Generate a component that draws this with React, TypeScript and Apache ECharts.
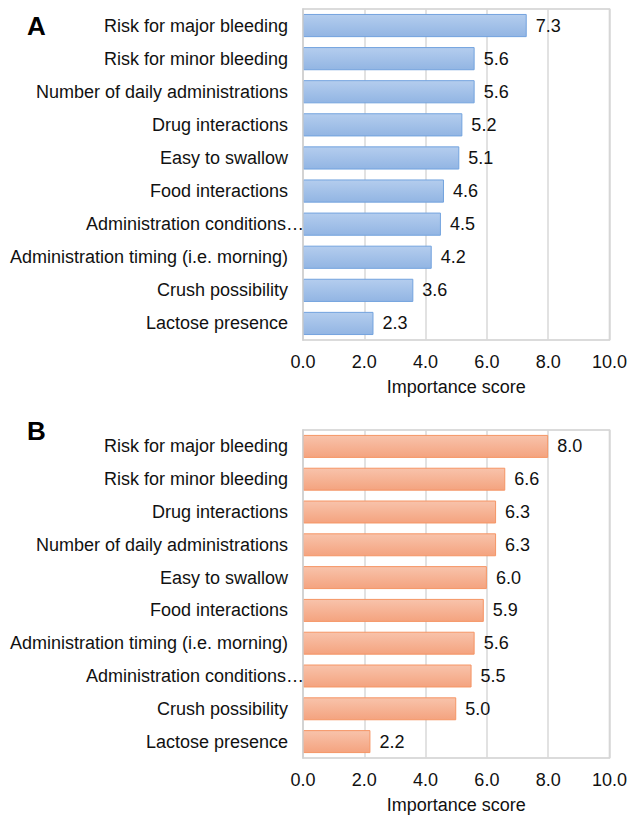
import React, { useEffect, useRef } from "react";
import * as echarts from "echarts";

const categoriesA = [
  "Risk for major bleeding",
  "Risk for minor bleeding",
  "Number of daily administrations",
  "Drug interactions",
  "Easy to swallow",
  "Food interactions",
  "Administration conditions…",
  "Administration timing (i.e. morning)",
  "Crush possibility",
  "Lactose presence",
];
const valuesA = [7.3, 5.6, 5.6, 5.2, 5.1, 4.6, 4.5, 4.2, 3.6, 2.3];

const categoriesB = [
  "Risk for major bleeding",
  "Risk for minor bleeding",
  "Drug interactions",
  "Number of daily administrations",
  "Easy to swallow",
  "Food interactions",
  "Administration timing (i.e. morning)",
  "Administration conditions…",
  "Crush possibility",
  "Lactose presence",
];
const valuesB = [8.0, 6.6, 6.3, 6.3, 6.0, 5.9, 5.6, 5.5, 5.0, 2.2];

const axisName = "Importance score";
const FONT = "Liberation Sans, Arial, sans-serif";
const FS = 18;

export default function App() {
  const ref = useRef<HTMLDivElement>(null);
  useEffect(() => {
    if (!ref.current) return;
    const chart = echarts.init(ref.current, null, { renderer: "svg" });
    const xAxisBase = (gridIndex: number) => ({
      type: "value",
      gridIndex,
      min: 0,
      max: 10,
      interval: 2,
      name: axisName,
      nameLocation: "middle",
      nameGap: 38,
      nameTextStyle: { fontSize: FS, color: "#111", fontFamily: FONT },
      axisLine: { show: false },
      axisTick: { show: false },
      axisLabel: {
        fontSize: FS,
        color: "#111",
        fontFamily: FONT,
        margin: 13,
        formatter: (v: number) => v.toFixed(1),
      },
      splitLine: { show: true, lineStyle: { color: "#d9d9d9", width: 1.5 } },
    });
    const yAxisBase = (gridIndex: number, data: string[]) => ({
      type: "category",
      gridIndex,
      data: data.map((c) =>
        c.endsWith("…")
          ? { value: c, textStyle: { padding: [0, -16, 0, 0] } }
          : c
      ),
      inverse: true,
      z: 5,
      axisLine: { show: true, lineStyle: { color: "#d0d0d0", width: 1.5 } },
      axisTick: { show: false },
      axisLabel: {
        fontSize: FS,
        color: "#111",
        fontFamily: FONT,
        margin: 15,
      },
    });
    const barSeries = (
      idx: number,
      data: number[],
      top: string,
      bottom: string,
      border: string
    ) => ({
      type: "bar",
      xAxisIndex: idx,
      yAxisIndex: idx,
      data,
      barWidth: "70%",
      itemStyle: {
        color: new echarts.graphic.LinearGradient(0, 0, 0, 1, [
          { offset: 0, color: top },
          { offset: 1, color: bottom },
        ]),
        borderColor: border,
        borderWidth: 1,
      },
      label: {
        show: true,
        position: "right",
        distance: 9,
        fontSize: FS,
        color: "#111",
        fontFamily: FONT,
        formatter: (p: any) => Number(p.value).toFixed(1),
      },
    });
    chart.setOption({
      animation: false,
      backgroundColor: "#ffffff",
      grid: [
        {
          left: 303,
          right: 19,
          top: 9,
          height: 331,
          show: true,
          borderColor: "#d0d0d0",
          borderWidth: 1.5,
        },
        {
          left: 303,
          right: 19,
          top: 430,
          height: 328,
          show: true,
          borderColor: "#d0d0d0",
          borderWidth: 1.5,
        },
      ],
      xAxis: [xAxisBase(0), xAxisBase(1)],
      yAxis: [yAxisBase(0, categoriesA), yAxisBase(1, categoriesB)],
      series: [
        barSeries(0, valuesA, "#b4cdee", "#92b5e3", "#73a3de"),
        barSeries(1, valuesB, "#f8c3ab", "#f4a37f", "#f59565"),
      ],
      graphic: [
        {
          type: "text",
          left: 27,
          top: 13,
          style: {
            text: "A",
            fontSize: 26,
            fontWeight: "bold",
            fill: "#000",
            fontFamily: FONT,
          },
        },
        {
          type: "text",
          left: 27,
          top: 418,
          style: {
            text: "B",
            fontSize: 26,
            fontWeight: "bold",
            fill: "#000",
            fontFamily: FONT,
          },
        },
      ],
    });
    return () => chart.dispose();
  }, []);
  return (
    <div
      ref={ref}
      style={{ position: "absolute", left: 0, top: 0, width: 630, height: 817 }}
    />
  );
}
